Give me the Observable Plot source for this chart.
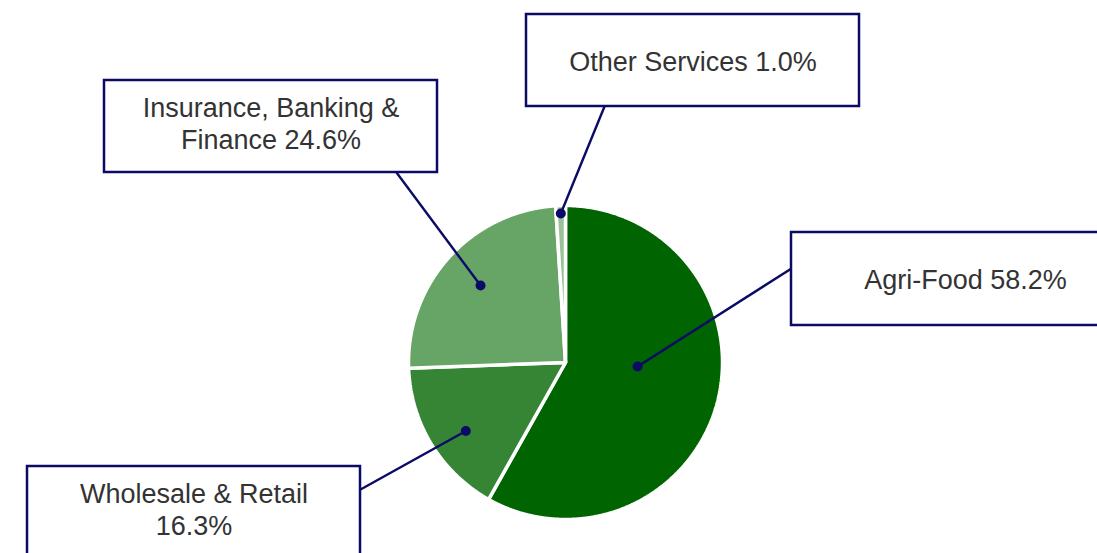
<!DOCTYPE html>
<html>
<head>
<meta charset="utf-8">
<script src="https://cdn.jsdelivr.net/npm/d3@7"></script>
<script src="https://cdn.jsdelivr.net/npm/@observablehq/plot@0.6"></script>
<style>
  html, body { margin: 0; padding: 0; background: #fff; overflow: hidden; }
  #chart svg { display: block; }
</style>
</head>
<body>
<div id="chart"></div>
<script>
// ---- data ----
const categories = ["Agri-Food", "Wholesale & Retail", "Insurance, Banking & Finance", "Other Services"];
const shares = [58.2, 16.3, 24.6, 1.0];
const labelText = ["Agri-Food 58.2%", "Wholesale & Retail\n16.3%", "Insurance, Banking &\nFinance 24.6%", "Other Services 1.0%"];
const colors = ["#006400", "#358535", "#67a567", "#99c299"];

// ---- layout (chart geometry, not data) ----
const W = 1097, H = 553;
const CX = 565, CY = 362, R = 157;
const dotRadiusFrac = [0.46, 0.77, 0.73, 0.95];
const dotAngleShift = [-0.2, -0.054, 0, 0];
const boxes = [
  {x1: 791, x2: 1139, y1: 232, y2: 325, ax: 791, ay: 268, ty: 0},
  {x1: 27,  x2: 360,  y1: 466, y2: 558, ax: 360, ay: 489, ty: -4},
  {x1: 104, x2: 437,  y1: 80,  y2: 172, ax: 396, ay: 172, ty: -4},
  {x1: 526, x2: 859,  y1: 14,  y2: 106, ax: 604, ay: 106, ty: 0}
];

const rows = categories.map((c, i) => ({category: c, value: shares[i], label: labelText[i], color: colors[i], ...boxes[i]}));
const pie = d3.pie().value(d => d.value).sort(null)(rows);

// slice outlines from the pie angles (angle measured clockwise from 12 o'clock)
const pt = (a, r) => [CX + Math.sin(a) * r, CY - Math.cos(a) * r];
const slicePts = [];
pie.forEach(p => {
  const n = Math.max(4, Math.ceil((p.endAngle - p.startAngle) / 0.005));
  slicePts.push({category: p.data.category, x: CX, y: CY});
  for (let k = 0; k <= n; k++) {
    const a = p.startAngle + (p.endAngle - p.startAngle) * k / n;
    const [x, y] = pt(a, R);
    slicePts.push({category: p.data.category, x, y});
  }
  slicePts.push({category: p.data.category, x: CX, y: CY});
});

const dots = pie.map((p, i) => {
  const mid = (p.startAngle + p.endAngle) / 2 + dotAngleShift[i];
  const [x, y] = pt(mid, R * dotRadiusFrac[i]);
  return {...p.data, dx: x, dy: y};
});

const navy = "#0b0b66";
const font = "'Liberation Sans', Arial, Helvetica, sans-serif";

const chart = Plot.plot({
  width: W, height: H,
  margin: 0,
  x: {domain: [0, W], range: [0, W], axis: null},
  y: {domain: [0, H], range: [0, H], axis: null},
  color: {domain: categories, range: colors},
  style: {fontFamily: font, background: "#fff"},
  marks: [
    Plot.line(slicePts, {x: "x", y: "y", z: "category", fill: "category", stroke: "#fff", strokeWidth: 3.5, strokeLinejoin: "miter", curve: "linear"}),
    Plot.link(dots, {x1: "ax", y1: "ay", x2: "dx", y2: "dy", stroke: navy, strokeWidth: 2.4}),
    Plot.dot(dots, {x: "dx", y: "dy", r: 5, fill: navy, stroke: "none"}),
    Plot.rect(rows, {x1: "x1", x2: "x2", y1: "y1", y2: "y2", fill: "#fff", stroke: navy, strokeWidth: 2.5}),
    Plot.text(rows, {
      x: d => (d.x1 + d.x2) / 2,
      y: d => (d.y1 + d.y2) / 2 + d.ty,
      text: "label", fontSize: 27, fill: "#333", lineHeight: 1.18, lineAnchor: "middle", textAnchor: "middle"
    })
  ]
});
document.getElementById("chart").appendChild(chart);
</script>
</body>
</html>
